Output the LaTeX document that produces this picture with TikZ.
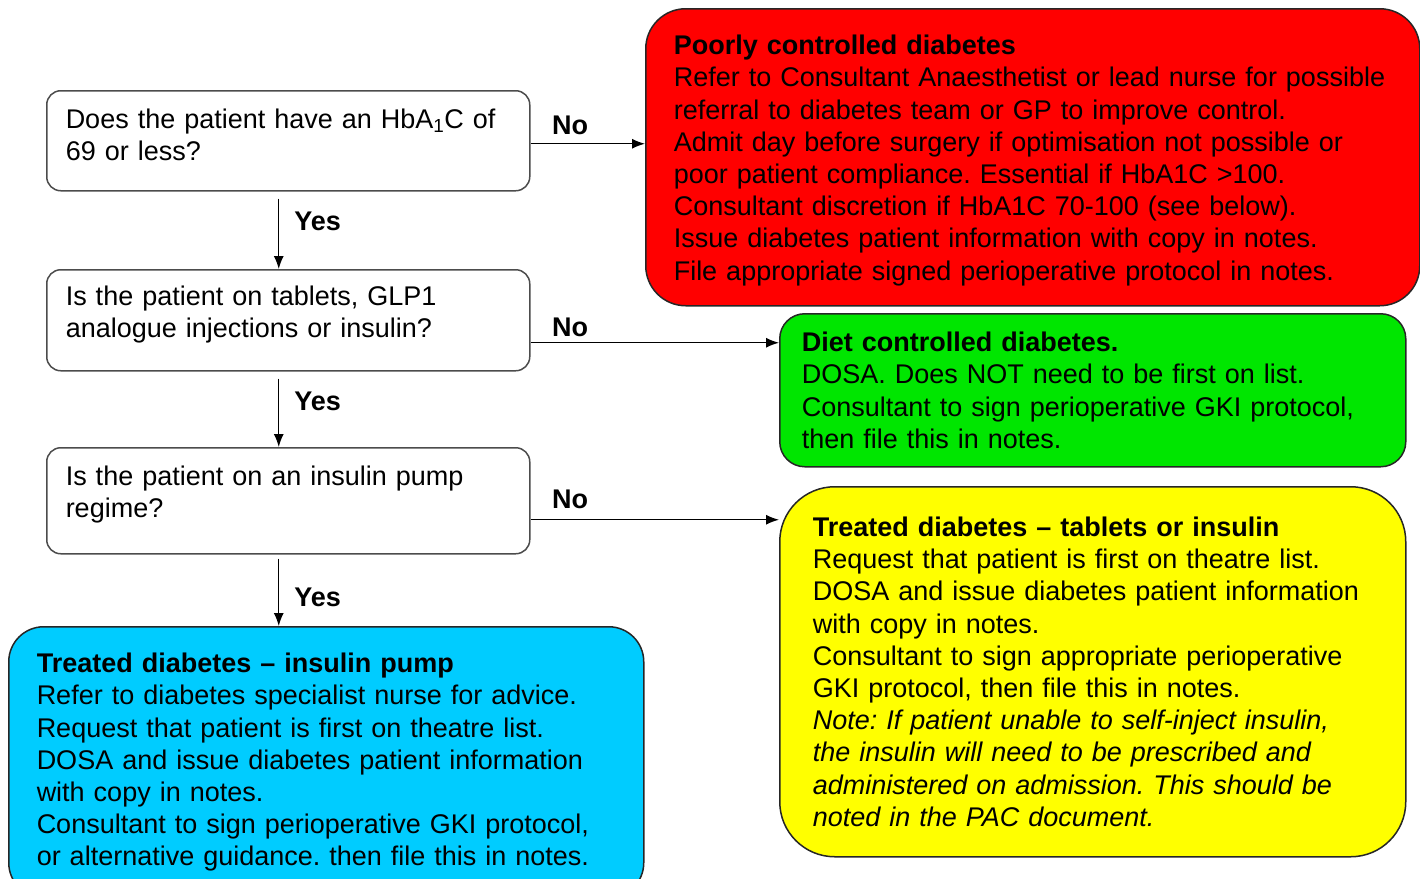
\documentclass[tikz,border=0pt]{standalone}
\usepackage{fontspec}
\setmainfont{Liberation Sans}
\usetikzlibrary{arrows.meta}
\tikzset{>={Latex[length=13pt,width=10pt]}}
\definecolor{poorred}{RGB}{255,0,0}
\definecolor{dietgreen}{RGB}{0,230,0}
\definecolor{tabyellow}{RGB}{255,255,0}
\definecolor{pumpblue}{RGB}{0,204,255}
\tikzset{
	box/.style={draw=black!85, line width=1.5pt, anchor=north west, align=left, font=\fontsize{27}{32.2}\selectfont},
	qbox/.style={box, draw=black!70, rounded corners=14pt, inner xsep=19pt, text width=445pt, text depth=50pt, minimum height=100pt},
	lbl/.style={font=\fontsize{27}{32.2}\selectfont\bfseries, inner sep=0pt}
}
\frenchspacing

\begin{document}
\begin{tikzpicture}[x=1pt,y=-1pt]
\useasboundingbox (0,0) rectangle (1420,878);

	% questions
	\node[qbox, text depth=44pt] (q1) at (46,90) {Does the patient have an HbA\textsubscript{1}C of\\69 or less?};
	\node[qbox, minimum height=101pt] (q2) at (46,269) {Is the patient on tablets, GLP1\\analogue injections or insulin?};
	\node[qbox, minimum height=106pt] (q3) at (46,447) {Is the patient on an insulin pump\\regime?};

	% outcomes
	\node[box, fill=poorred, rounded corners=40pt, inner xsep=28pt, text width=718pt, text height=26pt, minimum height=297pt] (poor) at (645,8) {\textbf{Poorly controlled diabetes}\\
Refer to Consultant Anaesthetist or lead nurse for possible\\
referral to diabetes team or GP to improve control.\\
Admit day before surgery if optimisation not possible or\\
poor patient compliance. Essential if HbA1C >100.\\
Consultant discretion if HbA1C 70-100 (see below).\\
Issue diabetes patient information with copy in notes.\\
File appropriate signed perioperative protocol in notes.};

	\node[box, fill=dietgreen, rounded corners=25pt, inner xsep=22pt, text width=582pt, minimum height=153pt] (diet) at (779,313) {\textbf{Diet controlled diabetes.}\\
DOSA. Does NOT need to be first on list.\\
Consultant to sign perioperative GKI protocol,\\
then file this in notes.};

	\node[box, fill=tabyellow, rounded corners=55pt, inner xsep=33pt, text width=560pt, minimum height=370pt] (tabs) at (779,486) {\textbf{Treated diabetes \textendash{} tablets or insulin}\\
Request that patient is first on theatre list.\\
DOSA and issue diabetes patient information\\
with copy in notes.\\
Consultant to sign appropriate perioperative\\
GKI protocol, then file this in notes.\\
\textit{Note: If patient unable to self-inject insulin,}\\
\textit{the insulin will need to be prescribed and}\\
\textit{administered on admission. This should be}\\
\textit{noted in the PAC document.}};

	\node[box, fill=pumpblue, rounded corners=35pt, inner xsep=28pt, text width=579pt, minimum height=271pt] (pump) at (8,626) {\textbf{Treated diabetes \textendash{} insulin pump}\\
Refer to diabetes specialist nurse for advice.\\
Request that patient is first on theatre list.\\
DOSA and issue diabetes patient information\\
with copy in notes.\\
Consultant to sign perioperative GKI protocol,\\
or alternative guidance. then file this in notes.};

	% yes
	\draw[line width=1.3pt][->]([xshift=-9.5pt,yshift=-7pt]q1.south) -- ([xshift=-9.5pt]q2.north) node[lbl, pos=.33, right=15pt]{Yes};
	\draw[line width=1.3pt][->]([xshift=-9.5pt,yshift=-7pt]q2.south) -- ([xshift=-9.5pt]q3.north) node[lbl, pos=.33, right=15pt]{Yes};
	\draw[line width=1.3pt][->]([xshift=-9.5pt,yshift=-4pt]q3.south) -- ([xshift=-9.5pt]q3.south |- pump.north) node[lbl, pos=.57, right=15pt]{Yes};

	% no
	\draw[line width=1.3pt][->]([yshift=-3pt]q1.east) -- ([yshift=-3pt]q1.east -| poor.west) node[lbl, pos=0, anchor=west, xshift=21pt, yshift=18pt]{No};
	\draw[line width=1.3pt][->]([yshift=-22.5pt]q2.east) -- ([yshift=-22.5pt]q2.east -| diet.west) node[lbl, pos=0, anchor=west, xshift=21pt, yshift=15pt]{No};
	\draw[line width=1.3pt][->]([yshift=-19pt]q3.east) -- ([yshift=-19pt]q3.east -| tabs.west) node[lbl, pos=0, anchor=west, xshift=21pt, yshift=20pt]{No};
\end{tikzpicture}
\end{document}
